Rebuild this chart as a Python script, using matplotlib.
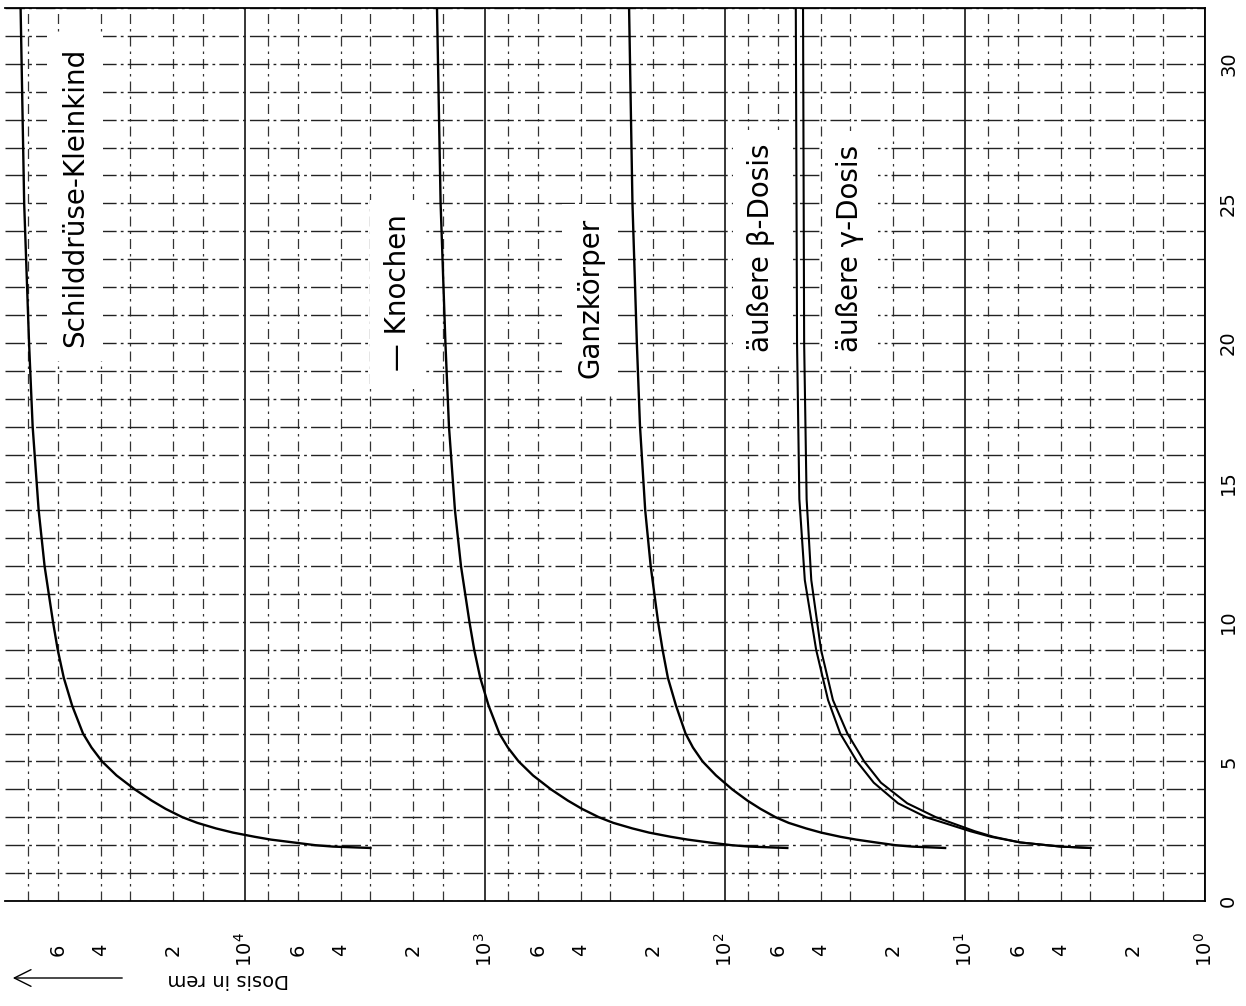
import matplotlib
matplotlib.use('Agg')
import matplotlib.pyplot as plt

# Dosis in rem ueber der Zeit (Bild ist um 90 Grad gedreht)
t_schild = [1.9, 1.95, 2.0, 2.1, 2.2, 2.3, 2.45, 2.6, 2.8, 3.0, 3.3, 3.6, 4.0, 4.5, 5.0,
            5.5, 6.0, 7.0, 8.0, 9.0, 10.0, 12.0, 14.0, 17.0, 20.0, 25.0, 32.0]
d_schild = [3000, 4300, 5100, 6300, 7800, 9100, 11200, 13200, 15800, 18200, 21400, 24500,
            28800, 34300, 39400, 43600, 47300, 52500, 56900, 60300, 63100, 68400, 72400,
            76700, 79400, 83200, 86100]

t_knochen = t_schild
d_knochen = [55, 79, 94, 117, 143, 168, 207, 243, 292, 335, 394, 452, 531, 631, 724, 803,
             871, 966, 1047, 1109, 1161, 1259, 1334, 1413, 1462, 1531, 1585]

t_ganz = t_schild
d_ganz = [12.1, 16.6, 19.5, 23.6, 28.4, 33.0, 39.7, 45.9, 54.3, 61.5, 71.1, 80.7, 93.3, 109,
          124, 136, 146, 160, 173, 182, 190, 204, 215, 226, 233, 243, 251]

t_beta = [1.9, 1.95, 2.1, 2.3, 2.5, 3.0, 3.5, 4.24, 5.0, 6.0, 7.2, 9.0, 11.5, 14.4, 20.0, 32.0]
d_beta = [3.0, 4.0, 5.9, 7.8, 9.5, 14.5, 19.0, 24.0, 28.2, 33.1, 37.2, 41.7, 46.5, 49.0, 50.1, 50.7]

t_gamma = t_beta
d_gamma = [3.0, 4.0, 5.9, 7.6, 9.1, 13.2, 17.4, 22.4, 26.3, 30.9, 35.5, 39.8, 43.7, 45.7, 46.8, 47.3]

curve_names = ['Schilddrüse-Kleinkind', '— Knochen', 'Ganzkörper', 'äußere β-Dosis', 'äußere γ-Dosis']
name_pos = [(51000, 25.2), (2300, 21.8), (365, 21.6), (71, 23.4), (30, 23.4)]

decades = [1, 10, 100, 1000, 10000]
decade_labels = ['$10^{0}$', '$10^{1}$', '$10^{2}$', '$10^{3}$', '$10^{4}$']
sub_steps = [1.5, 2, 3, 4, 6, 8]
sub_labels = ['', '2', '', '4', '6', '']
time_ticks = [0, 5, 10, 15, 20, 25, 30]

plt.rcParams['font.family'] = ['DejaVu Sans']

fig = plt.figure(figsize=(12.46, 10.06), dpi=100)
ax = fig.add_axes([5 / 1246, 105 / 1006, 1200 / 1246, 893 / 1006])
ax.set_xscale('log')
ax.set_xlim(1e5, 1)
ax.set_ylim(0, 32)

# ticks and labels
minor_ticks = []
minor_labels = []
for d in decades:
    for s, lab in zip(sub_steps, sub_labels):
        minor_ticks.append(s * d)
        minor_labels.append(lab)
ax.set_xticks(decades, decade_labels)
ax.set_xticks(minor_ticks, minor_labels, minor=True)
ax.set_yticks(time_ticks, [str(v) for v in time_ticks])
ax.set_yticks(range(0, 33), minor=True)

ax.yaxis.tick_right()
ax.tick_params(axis='x', which='both', length=0, pad=35, labelsize=14)
ax.tick_params(axis='y', which='both', length=0, pad=17, labelsize=14,
               labelright=True, labelleft=False)
for lbl in ax.get_xticklabels(which='both'):
    lbl.set_rotation(90)
    lbl.set_va('center')
for lbl in ax.get_yticklabels():
    lbl.set_rotation(90)
    lbl.set_ha('center')
    lbl.set_va('center')

# grid
ax.grid(which='major', axis='x', color='black', lw=1.1, ls='-')
ax.grid(which='minor', axis='x', color='#333333', lw=0.9, ls=(0, (8, 4, 2, 4)))
ax.grid(which='both', axis='y', color='#222222', lw=1.0, ls=(0, (14, 3, 2, 3)))
ax.set_axisbelow(True)

ax.spines['left'].set_visible(False)
for side in ['top', 'right', 'bottom']:
    ax.spines[side].set_linewidth(1.3)

# curves
ax.plot(d_schild, t_schild, color='black', lw=1.7)
ax.plot(d_knochen, t_knochen, color='black', lw=1.7)
ax.plot(d_ganz, t_ganz, color='black', lw=1.7)
ax.plot(d_beta, t_beta, color='black', lw=1.5)
ax.plot(d_gamma, t_gamma, color='black', lw=1.5)

for name, (xp, yp) in zip(curve_names, name_pos):
    ax.text(xp, yp, name, rotation=90, ha='center', va='center', fontsize=20,
            bbox=dict(boxstyle='square,pad=0.5', fc='white', ec='none'), zorder=3)

fig.text(228 / 1246, 1 - 980 / 1006, 'Dosis in rem', rotation=180,
         ha='center', va='center', fontsize=14)
ax.annotate('', xy=(10 / 1246, 1 - 978 / 1006), xytext=(125 / 1246, 1 - 978 / 1006),
            xycoords='figure fraction', textcoords='figure fraction',
            arrowprops=dict(arrowstyle='->', lw=1.0, color='black',
                            mutation_scale=30))

fig.savefig('out.png', dpi=100, facecolor='white')
